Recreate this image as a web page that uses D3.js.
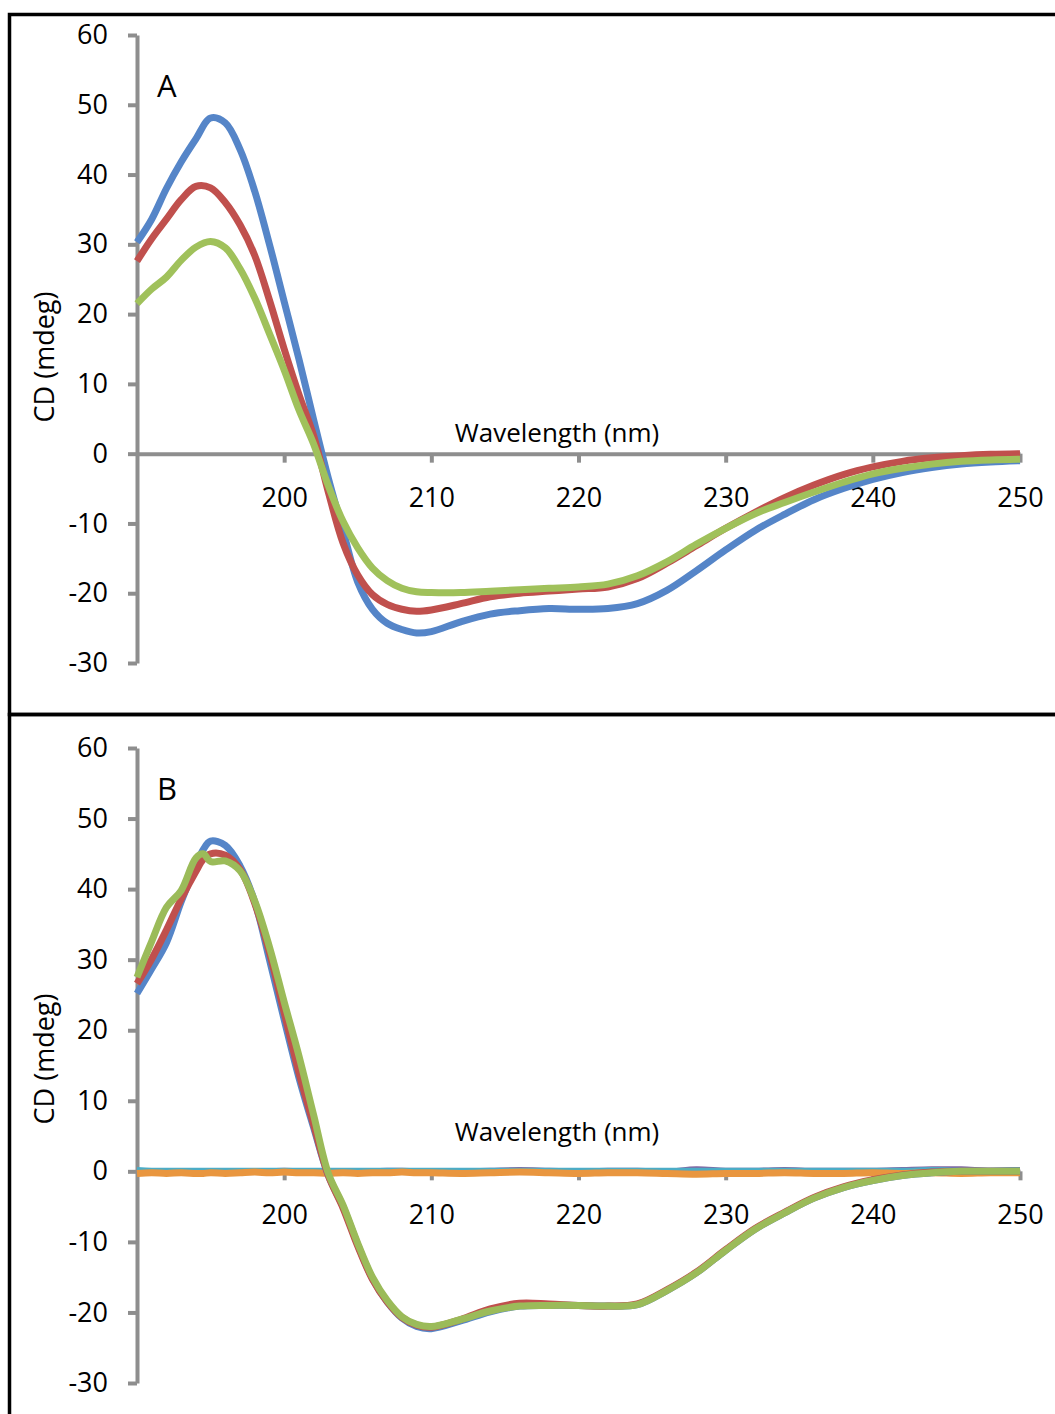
<!DOCTYPE html>
<html>
<head>
<meta charset="utf-8">
<script src="https://cdn.jsdelivr.net/npm/d3@7"></script>
<style>
  html, body { margin: 0; padding: 0; background: #fff; }
  svg { display: block; font-family: "Open Sans", sans-serif; }
</style>
</head>
<body>
<svg id="chart" width="1055" height="1414"></svg>
<script>
// ---- Panel A: CD spectra (mdeg) vs wavelength (nm) ----
const wavelengthsA = [190,191,192,193,194,195,196,197,198,199,200,201,202,203,204,205,206,207,208,209,210,
                      212,214,216,218,220,222,224,226,228,230,232,234,236,238,240,242,244,246,248,250];
const blueA  = [30.3,33.6,38.0,41.8,45.1,48.1,47.4,43.6,37.6,30.0,21.8,13.6,4.9,-3.5,-11.0,-18.4,-22.3,-24.3,-25.2,-25.7,-25.5,
                -24.1,-23.0,-22.5,-22.2,-22.3,-22.2,-21.5,-19.6,-16.8,-13.8,-11.0,-8.7,-6.6,-5.0,-3.7,-2.7,-2.0,-1.5,-1.2,-1.0];
const redA   = [27.6,30.8,33.6,36.4,38.3,38.1,36.0,32.8,28.4,22.0,15.0,8.5,2.6,-5.5,-12.8,-17.4,-20.2,-21.6,-22.3,-22.6,-22.4,
                -21.5,-20.5,-20.0,-19.7,-19.4,-19.1,-17.9,-15.7,-13.2,-10.7,-8.4,-6.3,-4.5,-3.0,-1.9,-1.1,-0.6,-0.3,-0.1,0.0];
const greenA = [21.5,23.6,25.3,27.7,29.6,30.4,29.5,26.5,22.3,17.2,12.0,6.3,1.4,-4.6,-9.7,-13.5,-16.4,-18.2,-19.3,-19.8,-19.9,
                -19.9,-19.7,-19.5,-19.3,-19.1,-18.7,-17.5,-15.5,-13.0,-10.7,-8.6,-7.0,-5.5,-4.1,-2.9,-2.1,-1.5,-1.1,-0.9,-0.8];

// ---- Panel B ----
const wavelengthsB = [190,191,192,193,194,194.5,195,196,197,198,199,200,201,202,203,204,205,206,207,208,209,210,
                      212,214,216,218,220,222,224,226,228,230,232,234,236,238,240,242,244,246,248,250];
const blueB   = [25.2,28.7,32.4,38.2,43.3,45.6,46.8,46.2,43.3,38.2,30.0,21.5,13.3,6.2,-0.6,-5.0,-10.4,-15.2,-18.5,-20.8,-22.0,-22.3,
                 -21.2,-19.9,-19.1,-19.0,-19.0,-19.1,-18.9,-16.9,-14.4,-11.2,-8.2,-5.9,-3.8,-2.3,-1.3,-0.6,-0.2,0.0,0.0,0.0];
const redB    = [26.6,30.1,34.2,38.6,42.5,44.2,45.0,44.8,42.8,38.0,31.0,22.5,14.0,6.6,-0.6,-5.2,-10.6,-15.3,-18.5,-20.7,-21.8,-22.1,
                 -21.0,-19.5,-18.7,-18.8,-19.0,-19.1,-18.8,-16.8,-14.3,-11.1,-8.1,-5.8,-3.7,-2.2,-1.2,-0.5,-0.1,0.0,0.0,0.0];
const greenB  = [27.5,32.6,37.4,39.8,44.4,45.0,43.9,44.0,42.6,38.3,31.8,24.0,16.4,8.0,-0.3,-4.8,-10.2,-15.0,-18.3,-20.6,-21.7,-22.0,
                 -21.0,-19.8,-19.1,-19.0,-19.0,-19.1,-18.9,-16.9,-14.4,-11.2,-8.2,-5.9,-3.8,-2.3,-1.3,-0.6,-0.2,0.0,0.0,0.0];
const purpleB = [0.2,0.1,0.2,0.2,0.1,0.1,0.2,0.1,0.2,0.2,0.2,0.3,0.2,0.2,0.2,0.1,0.2,0.2,0.3,0.3,0.2,0.2,
                 0.2,0.3,0.4,0.3,0.2,0.3,0.3,0.2,0.5,0.3,0.3,0.4,0.3,0.3,0.3,0.4,0.5,0.5,0.3,0.4];
const aquaB   = [0.4,0.3,0.3,0.3,0.3,0.3,0.3,0.3,0.3,0.3,0.3,0.3,0.3,0.3,0.3,0.3,0.3,0.3,0.3,0.3,0.3,0.3,
                 0.3,0.3,0.3,0.3,0.3,0.3,0.3,0.3,0.3,0.3,0.3,0.3,0.3,0.3,0.3,0.3,0.4,0.3,0.3,0.4];
const orangeB = [-0.3,-0.2,-0.3,-0.2,-0.3,-0.3,-0.2,-0.3,-0.2,-0.1,-0.2,-0.1,-0.2,-0.2,-0.3,-0.2,-0.3,-0.2,-0.2,-0.1,-0.2,-0.2,
                 -0.3,-0.2,-0.1,-0.2,-0.3,-0.2,-0.2,-0.3,-0.4,-0.3,-0.3,-0.2,-0.3,-0.3,-0.2,-0.3,-0.2,-0.3,-0.2,-0.2];

// Axis ticks
const yTicks = [-30,-20,-10,0,10,20,30,40,50,60];
const xTicks = [200,210,220,230,240,250];
const xLabel = "Wavelength (nm)";
const yLabel = "CD (mdeg)";

const svg = d3.select("#chart");
svg.append("rect").attr("width", 1055).attr("height", 1414).attr("fill", "#fff");

const axisColor = "#8e8e8e";
const x = d3.scaleLinear().domain([190, 250]).range([137, 1020]);
const plainNumber = d => String(d);   // hyphen-minus, as in the figure

function drawPanel(cfg) {
  const y = d3.scaleLinear().domain([-30, 60]).range([cfg.yBottom, cfg.yTop]);
  const g = svg.append("g");

  // frame
  g.append("rect")
    .attr("x", 9.5).attr("y", cfg.frameTop)
    .attr("width", 1200).attr("height", cfg.frameH)
    .attr("fill", "none").attr("stroke", "#000").attr("stroke-width", 3.5);

  // y axis
  const ya = g.append("g").attr("transform", `translate(${x(190)},0)`)
    .call(d3.axisLeft(y).tickValues(yTicks).tickFormat(plainNumber)
      .tickSize(9).tickSizeOuter(0).tickPadding(20));
  // x axis at zero
  const xa = g.append("g").attr("transform", `translate(0,${y(0)})`)
    .call(d3.axisBottom(x).tickValues(xTicks).tickFormat(plainNumber)
      .tickSize(9).tickSizeOuter(0).tickPadding(25));
  [ya, xa].forEach(a => {
    a.select(".domain").attr("stroke", axisColor).attr("stroke-width", 4);
    a.selectAll(".tick line").attr("stroke", axisColor).attr("stroke-width", 4);
    a.selectAll(".tick text").attr("fill", "#000").attr("font-size", 27)
      .attr("font-family", "Open Sans, sans-serif");
  });

  // titles
  g.append("text").attr("x", 557).attr("y", cfg.xLabelY)
    .attr("text-anchor", "middle").attr("font-size", 26).text(xLabel);
  g.append("text")
    .attr("transform", `translate(43,${cfg.yLabelY}) rotate(-90)`)
    .attr("text-anchor", "middle").attr("dominant-baseline", "central")
    .attr("font-size", 27).text(yLabel);
  g.append("text").attr("x", 157).attr("y", cfg.letterY)
    .attr("font-size", 31).text(cfg.letter);

  const line = d3.line()
    .x(d => x(d[0])).y(d => y(d[1]))
    .curve(d3.curveCatmullRom.alpha(0.5));

  cfg.series.forEach(s => {
    g.append("path")
      .datum(cfg.wl.map((w, i) => [w, s.values[i]]))
      .attr("d", line)
      .attr("fill", "none")
      .attr("stroke", s.color)
      .attr("stroke-width", s.width)
      .attr("stroke-linejoin", "round");
  });
}

drawPanel({
  letter: "A", letterY: 97,
  frameTop: 14.5, frameH: 700,
  yTop: 35, yBottom: 663,
  xLabelY: 442, yLabelY: 357,
  wl: wavelengthsA,
  series: [
    { values: blueA,  color: "#5585c8", width: 7 },
    { values: redA,   color: "#c0504d", width: 7 },
    { values: greenA, color: "#a0c15b", width: 7 }
  ]
});

drawPanel({
  letter: "B", letterY: 800,
  frameTop: 714.5, frameH: 800,
  yTop: 748, yBottom: 1383,
  xLabelY: 1141, yLabelY: 1059,
  wl: wavelengthsB,
  series: [
    { values: purpleB, color: "#8064a2", width: 3 },
    { values: aquaB,   color: "#4bacc6", width: 3 },
    { values: orangeB, color: "#e9963f", width: 7 },
    { values: blueB,   color: "#5585c8", width: 7 },
    { values: redB,    color: "#c0504d", width: 7 },
    { values: greenB,  color: "#9bbb59", width: 7 }
  ]
});
</script>
</body>
</html>
